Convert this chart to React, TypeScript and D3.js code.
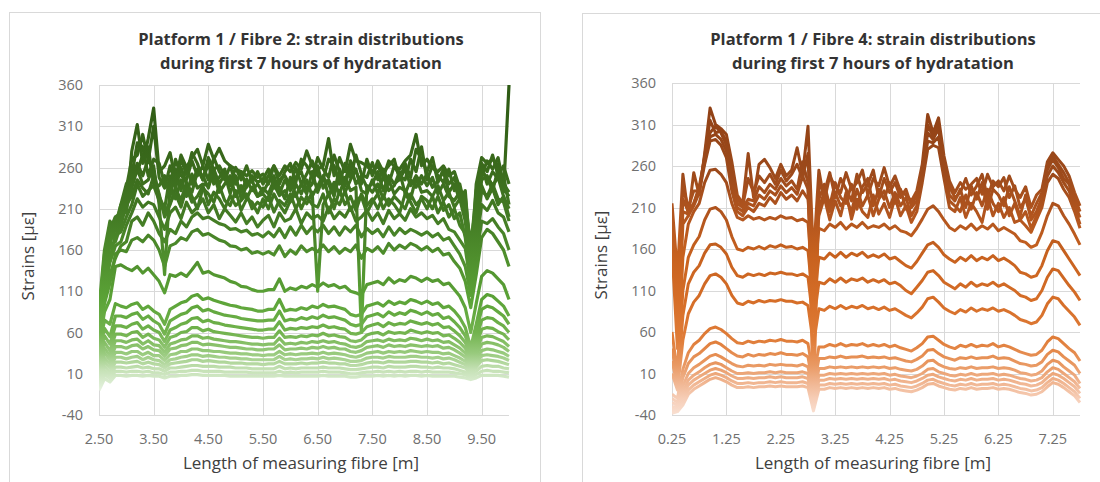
import React from 'react';
import * as d3 from 'd3';

const strainTicks = [-40, 10, 60, 110, 160, 210, 260, 310, 360];
const fibre2Ticks = [2.5, 3.5, 4.5, 5.5, 6.5, 7.5, 8.5, 9.5];
const fibre4Ticks = [0.25, 1.25, 2.25, 3.25, 4.25, 5.25, 6.25, 7.25];

const fibre2Title = ['Platform 1 / Fibre 2: strain distributions', 'during first 7 hours of hydratation'];
const fibre4Title = ['Platform 1 / Fibre 4: strain distributions', 'during first 7 hours of hydratation'];

// measuring points along the fibre [m], every 0.1 m
const fibre2Positions = d3.range(76).map(i => 2.5 + i * 0.1);
const fibre4Positions = d3.range(76).map(i => 0.25 + i * 0.1);

// strain readings [µε], latest (highest) reading first
const fibre2Strains: number[][] = [
  [90,160,195,185,210,205,280,312,265,295, 332,255,262,278,245,275,260,272,282,262, 288,270,283,268,262,258,255,250,256,248, 252,240,262,250,262,255,266,258,280,262, 258,262,295,250,272,255,288,268,266,262, 255,262,248,268,262,258,268,275,300,262, 270,260,255,262,250,255,235,220,135,240, 272,265,270,262,230,360],
  [80,145,180,190,215,240,250,290,285,250, 270,265,240,235,270,250,245,268,250,262, 245,272,255,245,262,240,255,236,250,242, 246,258,235,245,250,238,260,240,252,268, 250,245,270,262,240,265,248,275,252,248, 266,245,258,240,262,250,245,270,255,285, 245,262,250,242,258,232,240,210,170,215, 250,268,258,272,240,230],
  [78,155,185,200,205,235,270,275,300,268, 310,248,235,262,240,270,252,278,265,245, 272,258,262,250,240,260,245,262,242,255, 240,250,262,240,255,265,242,270,262,248, 272,258,248,275,255,242,268,255,240,270, 250,268,255,262,270,245,265,248,282,270, 255,272,242,258,240,248,228,225,160,232, 265,255,275,250,262,240],
  [75,150,165,200,195,225,262,255,275,285, 240,238,250,225,258,232,262,240,258,245, 265,240,248,258,238,245,230,246,232,240, 230,242,250,228,245,232,248,255,232,240, 262,235,245,230,258,238,262,240,250,236, 240,255,232,250,240,246,258,238,250,240, 252,236,244,255,230,240,220,232,145,200, 262,240,255,246,250,215],
  [72,135,170,185,215,218,245,265,250,270, 255,225,210,250,235,260,240,230,255,250, 235,258,240,252,228,250,222,238,245,225, 235,228,245,236,222,248,225,240,228,255, 230,248,240,225,252,230,245,258,232,228, 245,228,250,232,238,255,228,245,236,250, 238,248,228,240,225,220,230,205,150,205, 255,248,232,258,235,225],
  [70,125,175,175,200,210,235,258,240,245, 262,215,130,240,222,245,225,252,235,240, 238,252,230,240,250,225,238,222,236,225, 228,220,240,226,232,218,240,228,245,225, 238,250,225,242,228,248,232,236,60,238, 230,240,222,245,228,236,232,222,248,230, 232,225,238,220,230,212,222,195,130,190, 245,250,238,248,225,210],
  [68,128,165,170,190,215,225,245,235,228, 250,228,200,215,235,220,242,225,210,235, 228,218,238,220,214,232,208,222,218,205, 222,210,228,215,205,220,228,210,225,215, 212,228,205,222,215,232,208,220,225,205, 218,228,210,222,215,205,228,218,205,225, 220,210,225,208,215,198,205,175,120,178, 238,222,235,215,225,200],
  [65,118,150,178,182,200,215,240,225,232, 238,220,205,218,228,212,235,218,225,238, 215,230,222,210,226,214,220,228,210,218, 212,225,206,220,214,228,210,224,216,230, 110,215,228,210,232,215,225,208,228,214, 222,210,226,214,225,218,210,228,215,222, 210,225,205,218,200,210,190,180,125,185, 232,225,240,222,218,195],
  [60,105,145,165,170,190,205,222,212,218, 215,200,185,205,212,198,218,205,212,222, 205,215,198,210,202,194,205,192,200,188, 196,202,188,205,195,198,210,192,205,198, 202,195,212,198,206,200,212,195,200,208, 196,205,192,208,198,204,196,210,200,205, 198,202,192,198,185,182,172,162,118,165, 215,208,220,205,200,182],
  [55,100,130,150,165,170,195,200,190,205, 195,180,170,185,180,195,188,200,205,198, 200,196,192,190,185,186,182,184,178,180, 176,182,176,186,175,188,178,190,180,188, 182,190,180,188,178,188,182,190,176,186, 180,185,176,188,178,186,180,185,182,178, 182,176,180,172,175,165,155,140,105,150, 195,192,198,188,180,160],
  [50,95,120,155,160,158,172,175,170,178, 172,160,140,165,168,175,172,182,185,178, 180,176,172,170,165,164,160,162,156,158, 155,158,154,165,152,160,155,165,158,162, 158,166,158,164,156,162,158,166,150,162, 158,164,156,168,160,166,162,168,165,160, 164,158,162,154,156,146,138,122,90,130, 175,185,180,170,160,140],
  [45,85,100,140,142,138,135,140,132,138, 130,122,108,130,128,132,128,136,145,132, 134,130,128,126,122,120,116,115,112,110, 110,112,112,125,110,114,112,116,114,118, 115,120,116,118,114,116,110,108,105,118, 120,122,118,126,120,124,122,128,126,122, 126,122,124,118,120,112,104,90,60,95, 128,135,132,125,118,100],
  [40,75,70,95,92,90,94,96,88,92, 86,82,70,88,92,96,98,104,106,100, 102,99,97,95,93,92,90,89,88,86, 86,88,88,100,86,88,87,90,88,92, 90,94,91,92,90,88,82,80,82,92, 94,96,92,98,94,97,95,100,98,95, 98,94,96,90,92,86,78,66,42,70, 100,106,104,98,92,80],
  [35,65,55,80,80,78,82,84,76,80, 74,70,58,74,78,82,84,90,92,86, 88,85,83,81,80,79,77,76,75,74, 74,75,75,86,74,76,75,78,76,79, 77,81,78,79,77,75,70,68,70,79, 81,83,79,85,81,84,82,87,85,82, 85,81,83,77,79,73,66,56,36,60, 88,92,90,85,80,70],
  [30,56,46,68,68,66,70,72,64,68, 63,60,49,63,66,70,72,77,78,73, 75,72,71,69,68,67,66,65,64,63, 63,64,64,73,63,65,64,66,65,67, 66,69,66,67,65,64,59,58,60,67, 69,71,67,72,69,71,70,74,72,70, 72,69,71,66,67,62,56,48,31,51, 75,78,77,72,68,60],
  [25,48,38,58,58,56,60,61,54,58, 53,51,42,54,56,60,61,66,66,62, 64,61,60,59,58,57,56,55,54,54, 53,54,54,62,54,55,54,56,55,57, 56,59,56,57,55,54,50,49,51,57, 59,60,57,61,59,60,59,63,61,59, 61,59,60,56,57,53,48,41,26,43, 64,66,65,61,58,51],
  [20,41,32,50,50,48,51,52,46,50, 45,44,36,46,48,51,52,56,56,53, 54,52,51,50,49,49,48,47,46,46, 45,46,46,53,46,47,46,48,47,49, 48,50,48,49,47,46,43,42,44,49, 50,51,49,52,50,51,50,53,52,50, 52,50,51,48,49,45,41,35,22,37, 54,56,55,52,49,43],
  [15,35,27,43,43,41,44,45,40,43, 39,38,31,40,41,44,45,48,48,45, 46,45,44,43,42,42,41,40,40,39, 39,40,40,45,39,40,40,41,40,42, 41,43,41,42,40,40,37,36,38,42, 43,44,42,45,43,44,43,45,44,43, 44,43,44,41,42,39,35,30,19,32, 46,48,47,45,42,37],
  [10,29,22,36,36,34,37,37,33,36, 32,32,26,33,34,37,37,40,40,38, 38,37,37,36,35,35,34,34,33,33, 32,33,33,37,33,34,33,34,34,35, 34,36,34,35,34,33,31,30,32,35, 36,37,35,37,36,37,36,38,37,36, 37,36,36,34,35,32,29,25,16,27, 38,40,39,37,35,31],
  [6,24,17,30,30,28,30,31,27,30, 27,26,21,27,28,30,31,33,33,31, 32,31,30,30,29,29,28,28,27,27, 27,27,27,31,27,28,27,28,28,29, 28,30,28,29,28,27,25,25,26,29, 30,30,29,31,30,30,30,31,31,30, 30,29,30,28,29,27,24,21,13,22, 32,33,32,31,29,26],
  [2,19,12,24,24,23,24,25,22,24, 22,21,17,22,23,24,25,27,27,25, 26,25,24,24,23,23,23,22,22,22, 21,22,22,25,22,22,22,23,22,23, 23,24,23,23,22,22,20,20,21,23, 24,24,23,25,24,24,24,25,25,24, 24,23,24,22,23,21,19,17,10,18, 26,27,26,25,23,21],
  [-2,14,8,18,18,17,18,19,17,18, 16,16,13,17,17,18,19,20,20,19, 19,19,18,18,18,17,17,17,16,16, 16,16,16,19,16,17,16,17,17,17, 17,18,17,17,17,16,15,15,16,17, 18,18,17,19,18,18,18,19,19,18, 18,17,18,17,17,16,14,12,8,13, 19,20,19,19,17,16],
  [-6,9,4,13,13,12,13,13,12,13, 11,11,9,12,12,13,13,14,14,13, 13,13,13,12,12,12,12,12,11,11, 11,11,11,13,11,12,11,12,12,12, 12,13,12,12,12,11,10,10,11,12, 12,13,12,13,12,13,12,13,13,12, 13,12,12,12,12,11,10,9,5,9, 13,14,13,13,12,11],
  [-10,4,0,8,8,7,8,8,7,8, 7,7,5,7,7,8,8,9,9,8, 8,8,8,8,7,7,7,7,7,7, 7,7,7,8,7,7,7,7,7,7, 7,8,7,7,7,7,6,6,7,7, 7,8,7,8,7,8,7,8,8,7, 8,7,7,7,7,7,6,5,3,5, 8,8,8,8,7,6],
];

const fibre4Strains: number[][] = [
  [215,130,250,200,252,225,275,330,310,305, 298,265,225,215,275,222,262,268,258,245, 262,248,255,282,250,308,150,255,218,248, 235,228,252,232,240,255,225,245,236,258, 235,248,230,225,218,230,262,322,300,318, 272,242,228,240,232,238,245,226,250,235, 242,230,248,232,222,235,210,225,232,265, 276,268,260,248,228,212],
  [200,100,235,210,230,230,272,315,300,302, 290,255,220,212,245,228,248,240,250,238, 255,242,250,262,245,275,60,238,228,252, 222,245,232,218,250,228,238,255,222,245, 228,240,222,232,212,225,255,310,295,312, 262,235,222,228,245,225,236,250,222,242, 235,246,222,236,210,220,200,215,228,260, 272,262,252,240,222,205],
  [190,80,220,205,215,235,270,300,308,300, 285,245,215,210,220,218,235,228,238,232, 245,236,242,232,265,240,-30,220,238,212, 240,222,215,238,208,235,245,212,232,220, 240,215,232,208,210,218,250,300,292,305, 258,225,218,232,210,236,220,240,208,232, 225,212,235,218,200,225,195,205,222,255, 268,258,245,238,215,198],
  [175,60,205,202,215,232,265,295,298,292, 278,238,210,205,215,212,225,220,230,225, 236,228,234,226,248,232,100,210,228,205, 228,212,220,205,232,212,225,200,220,230, 210,228,212,222,200,212,245,290,288,295, 250,218,212,205,225,208,228,212,232,215, 205,222,200,215,195,205,185,200,218,248, 260,252,240,230,210,190],
  [160,40,190,200,212,228,262,290,292,285, 270,230,205,200,210,205,215,212,222,215, 228,220,225,218,230,220,130,200,222,195, 218,200,228,196,220,205,198,225,202,215, 198,222,200,212,192,205,240,280,285,282, 245,210,205,222,198,215,205,192,222,200, 215,198,210,192,195,188,180,195,210,240, 250,245,232,222,205,185],
  [60,10,150,190,205,215,240,255,256,250, 240,215,198,195,200,196,198,195,198,196, 200,197,198,194,196,192,110,185,182,190, 186,192,184,190,186,192,185,188,186,190, 184,188,182,180,176,185,196,208,212,205, 195,186,182,188,184,190,183,188,184,190, 182,186,182,178,170,168,162,165,180,200, 215,212,200,190,178,165],
  [40,0,110,150,165,175,195,208,210,205, 195,175,160,158,162,160,163,160,164,162, 165,162,163,160,162,158,90,150,148,155, 150,156,150,155,152,156,150,153,150,154, 148,150,145,140,137,145,155,165,168,162, 153,148,144,150,146,152,146,150,147,152, 146,149,145,140,132,130,126,128,140,158, 170,168,158,148,138,128],
  [25,-5,80,118,132,140,155,165,166,162, 154,138,128,126,130,128,130,128,131,130, 132,130,130,128,130,126,70,120,118,124, 120,125,120,124,122,125,120,123,120,123, 118,120,116,110,106,114,122,132,134,128, 120,116,112,118,114,120,115,118,116,120, 115,118,114,110,104,102,98,100,110,126, 136,134,125,116,108,98],
  [10,-10,50,82,96,104,118,128,130,126, 118,104,95,93,97,95,98,96,98,97, 99,97,97,95,96,92,45,88,86,91, 88,92,88,91,89,92,88,90,87,90, 86,88,84,80,77,83,90,100,102,96, 89,85,82,87,84,89,85,88,86,89, 85,87,84,80,75,73,70,72,80,94, 102,100,92,85,78,68],
  [-15,-20,15,35,45,50,58,64,66,63, 58,52,47,46,49,47,49,48,50,49, 51,49,49,48,50,46,5,42,42,45, 43,46,43,45,44,46,43,45,43,45, 42,44,41,39,37,41,46,54,55,50, 45,42,40,44,42,45,42,44,43,46, 42,44,42,39,36,34,32,33,38,48, 54,52,46,40,35,25],
  [-20,-25,5,22,30,34,40,46,48,45, 40,35,31,30,33,31,33,32,34,33, 35,33,33,32,34,30,-10,28,28,30, 29,31,29,30,30,31,29,30,29,30, 28,29,27,25,24,27,31,38,39,34, 30,28,26,29,28,30,28,29,29,31, 28,29,28,25,22,21,19,20,24,33, 38,36,30,25,20,10],
  [-25,-28,-5,10,17,21,26,31,33,30, 26,22,19,18,20,19,20,19,21,20, 21,20,20,19,21,18,-20,16,16,18, 17,18,17,18,17,18,17,18,17,18, 16,17,15,14,13,15,19,25,26,21, 18,16,15,17,16,18,16,17,17,18, 16,17,16,14,11,10,8,9,13,21, 26,24,18,13,8,-2],
  [-30,-30,-12,2,8,12,17,21,23,21, 17,13,10,10,11,10,11,11,12,11, 12,11,11,11,12,10,-25,8,8,10, 9,10,9,10,9,10,9,10,9,10, 8,9,7,6,5,7,10,15,16,12, 10,8,7,9,8,10,8,9,9,10, 8,9,8,6,4,3,1,2,5,12, 17,15,10,5,0,-8],
  [-33,-32,-18,-4,2,6,10,14,16,14, 11,7,4,4,5,4,5,5,6,5, 6,5,5,5,6,4,-28,2,2,4, 3,4,3,4,3,4,3,4,3,4, 2,3,1,0,-1,1,4,8,9,6, 4,2,1,3,2,4,2,3,3,4, 2,3,2,0,-2,-3,-5,-4,-1,5, 10,8,4,-1,-6,-14],
  [-36,-34,-23,-10,-4,0,4,8,10,8, 5,1,-2,-2,-1,-2,-1,-1,0,-1, 0,-1,-1,-1,0,-2,-32,-4,-4,-2, -3,-2,-3,-2,-3,-2,-3,-2,-3,-2, -4,-3,-5,-6,-7,-5,-2,2,3,0, -2,-4,-5,-3,-4,-2,-4,-3,-3,-2, -4,-3,-4,-6,-8,-9,-11,-10,-7,-1, 4,2,-2,-7,-12,-20],
  [-38,-36,-28,-15,-9,-5,-1,3,5,3, 0,-4,-7,-7,-6,-7,-6,-6,-5,-6, -5,-6,-6,-6,-5,-7,-35,-9,-9,-7, -8,-7,-8,-7,-8,-7,-8,-7,-8,-7, -9,-8,-10,-11,-12,-10,-7,-3,-2,-5, -7,-9,-10,-8,-9,-7,-9,-8,-8,-7, -9,-8,-9,-11,-13,-14,-16,-15,-12,-6, -1,-3,-7,-12,-17,-25],
];

// colour of the lines by strain level (Excel-style vertical gradient)
const greenStops: [number, string][] = [
  [360, '#2d5913'], [260, '#3a6a1c'], [200, '#437b24'], [150, '#4f8f2d'], [100, '#5ba337'],
  [60, '#72b34e'], [35, '#98ca7d'], [15, '#c5e1b5'], [-10, '#e6f2e0'], [-40, '#f5faf2'],
];
const orangeStops: [number, string][] = [
  [360, '#8c3d13'], [250, '#9d4a1b'], [200, '#b2551e'], [150, '#c8621f'], [100, '#d56d27'],
  [50, '#e07d39'], [20, '#e99963'], [0, '#f0b48f'], [-20, '#f6cdb6'], [-40, '#f9e0d2'],
];

const FONT = '"Open Sans", "DejaVu Sans", sans-serif';

interface PanelProps {
  id: string;
  title: string[];
  positions: number[];
  strains: number[][];
  xDomain: [number, number];
  xTicks: number[];
  stops: [number, string][];
  plot: { left: number; right: number; top: number; bottom: number };
  cardX: number;
  cardY: number;
  lineWidth: number;
}

const Panel: React.FC<PanelProps> = ({ id, title, positions, strains, xDomain, xTicks, stops, plot, cardX, cardY, lineWidth }) => {
  const x = d3.scaleLinear().domain(xDomain).range([plot.left, plot.right]);
  const y = d3.scaleLinear().domain([-40, 360]).range([plot.bottom, plot.top]);
  const line = d3.line<number>().x((_, i) => x(positions[i])).y(d => y(d));
  const cx = (plot.left + plot.right) / 2 - 3;
  const cy = (plot.top + plot.bottom) / 2 + 6;

  return (
    <g>
      <rect x={cardX + 0.5} y={cardY + 0.5} width={531} height={500} fill="#fff" stroke="#d9d9d9" />
      <defs>
        <linearGradient id={`grad-${id}`} gradientUnits="userSpaceOnUse" x1={0} y1={plot.top} x2={0} y2={plot.bottom}>
          {stops.map(([v, c]) => (
            <stop key={v} offset={(y(v) - plot.top) / (plot.bottom - plot.top)} stopColor={c} />
          ))}
        </linearGradient>
        <clipPath id={`clip-${id}`}>
          <rect x={plot.left} y={plot.top - 2} width={plot.right - plot.left + 2} height={plot.bottom - plot.top + 2} />
        </clipPath>
      </defs>

      {strainTicks.map(t => (
        <line key={t} x1={plot.left} x2={plot.right} y1={Math.round(y(t)) + 0.5} y2={Math.round(y(t)) + 0.5} stroke="#d9d9d9" />
      ))}
      {xTicks.map(t => (
        <line key={t} x1={Math.round(x(t)) + 0.5} x2={Math.round(x(t)) + 0.5} y1={plot.top} y2={plot.bottom} stroke="#d9d9d9" />
      ))}

      <g clipPath={`url(#clip-${id})`}>
        {strains.slice().reverse().map((s, i) => (
          <path key={i} d={line(s) || ''} fill="none" stroke={`url(#grad-${id})`} strokeWidth={lineWidth} strokeLinejoin="round" />
        ))}
      </g>

      {strainTicks.map(t => (
        <text key={t} x={plot.left - 16} y={y(t) + 5} textAnchor="end" fontSize={14.5} fill="#6f6f6f" fontFamily={FONT}>{t}</text>
      ))}
      {xTicks.map(t => (
        <text key={t} x={x(t)} y={plot.bottom + 29} textAnchor="middle" fontSize={14.5} fill="#6f6f6f" fontFamily={FONT}>{t.toFixed(2)}</text>
      ))}

      {title.map((s, i) => (
        <text key={i} x={cx} y={45 + i * 24} textAnchor="middle" fontSize={16.5} fontWeight={700} fill="#333" fontFamily={FONT}>{s}</text>
      ))}
      <text transform={`translate(${plot.left - 65},${cy}) rotate(-90)`} textAnchor="middle" fontSize={17} fill="#404040" fontFamily={FONT}>Strains [µε]</text>
      <text x={cx} y={plot.bottom + 54} textAnchor="middle" fontSize={17} fill="#404040" fontFamily={FONT}>Length of measuring fibre [m]</text>
    </g>
  );
};

export default function App() {
  return (
    <svg width={1100} height={482} style={{ position: 'absolute', left: 0, top: 0, background: '#fff' }}>
      <Panel
        id="f2"
        title={fibre2Title}
        positions={fibre2Positions}
        strains={fibre2Strains}
        xDomain={[2.5, 10]}
        xTicks={fibre2Ticks}
        stops={greenStops}
        plot={{ left: 99, right: 509, top: 85, bottom: 415 }}
        cardX={9}
        cardY={12}
        lineWidth={3.2}
      />
      <Panel
        id="f4"
        title={fibre4Title}
        positions={fibre4Positions}
        strains={fibre4Strains}
        xDomain={[0.25, 7.75]}
        xTicks={fibre4Ticks}
        stops={orangeStops}
        plot={{ left: 672, right: 1080, top: 83, bottom: 415 }}
        cardX={582}
        cardY={13}
        lineWidth={3}
      />
    </svg>
  );
}
